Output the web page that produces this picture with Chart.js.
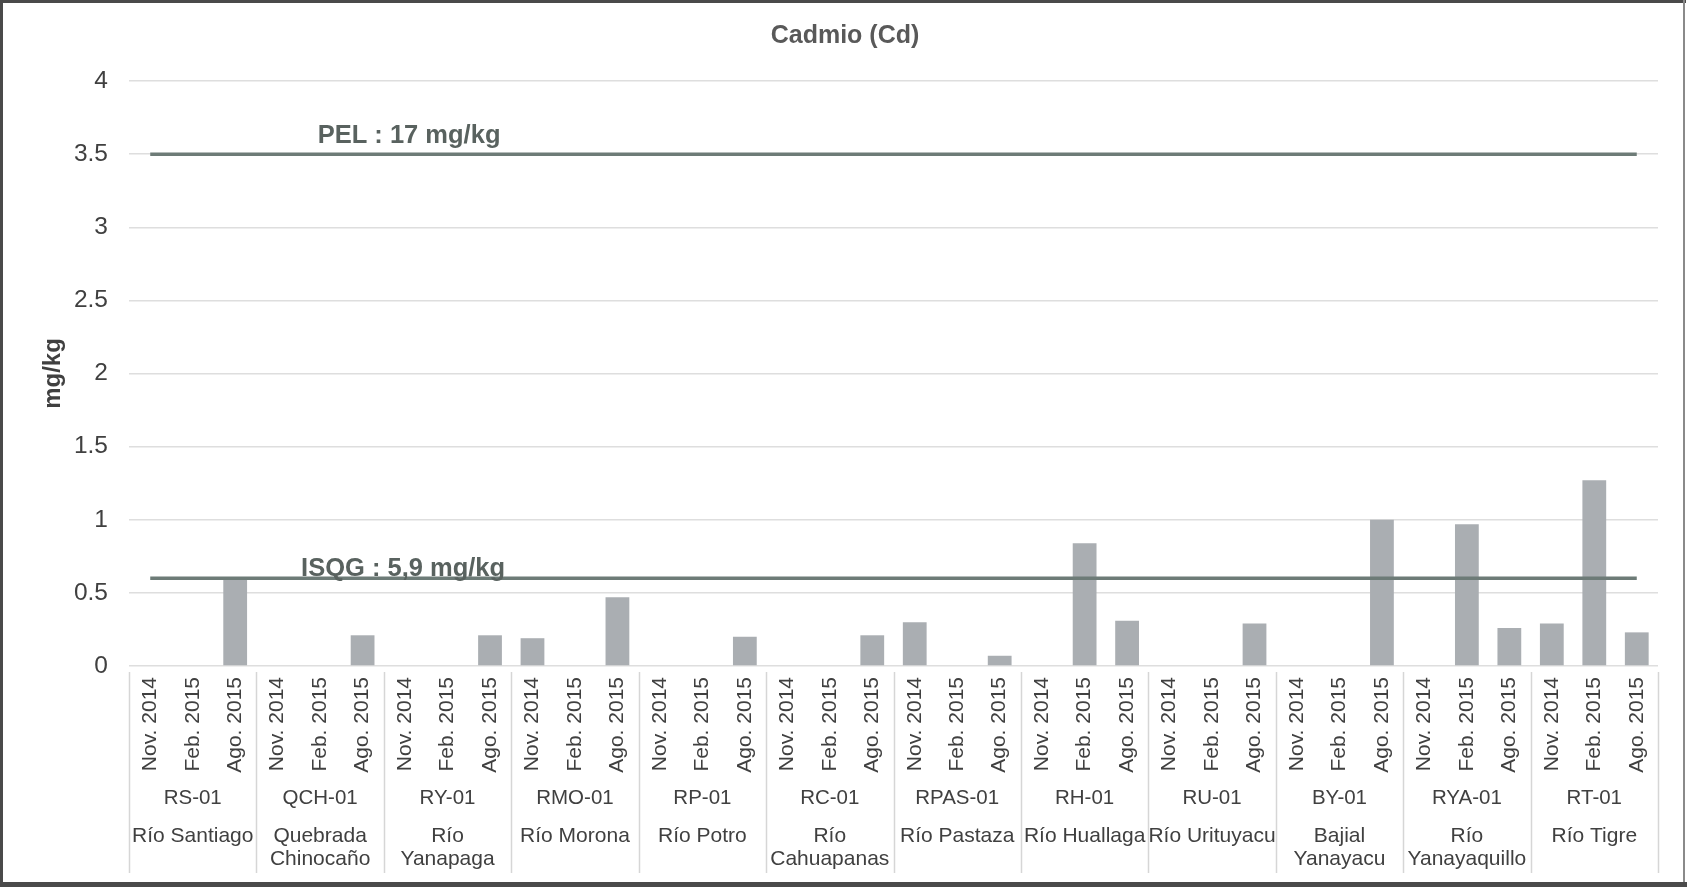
<!DOCTYPE html>
<html lang="es">
<head>
<meta charset="utf-8">
<title>Cadmio (Cd)</title>
<script src="https://cdn.jsdelivr.net/npm/chart.js@4"></script>
<style>
  html, body { margin: 0; padding: 0; background: #ffffff; }
  #wrap { width: 1687px; height: 887px; }
</style>
</head>
<body>
<div id="wrap"><canvas id="chart" width="1687" height="887"></canvas></div>
<script>
// Sampling campaigns at each station
const periods = ['Nov. 2014', 'Feb. 2015', 'Ago. 2015'];

// Station codes and river names (one entry per station)
const stations = ['RS-01', 'QCH-01', 'RY-01', 'RMO-01', 'RP-01', 'RC-01',
                  'RPAS-01', 'RH-01', 'RU-01', 'BY-01', 'RYA-01', 'RT-01'];
const rivers = [
  ['Río Santiago'], ['Quebrada', 'Chinocaño'], ['Río', 'Yanapaga'], ['Río Morona'],
  ['Río Potro'], ['Río', 'Cahuapanas'], ['Río Pastaza'], ['Río Huallaga'],
  ['Río Urituyacu'], ['Bajial', 'Yanayacu'], ['Río', 'Yanayaquillo'], ['Río Tigre']
];

// Cadmium in sediment, mg/kg, per station: [Nov. 2014, Feb. 2015, Ago. 2015]
const rs01   = [null, null, 0.59];
const qch01  = [null, null, 0.21];
const ry01   = [null, null, 0.21];
const rmo01  = [0.19, null, 0.47];
const rp01   = [null, null, 0.20];
const rc01   = [null, null, 0.21];
const rpas01 = [0.30, null, 0.07];
const rh01   = [null, 0.84, 0.31];
const ru01   = [null, null, 0.29];
const by01   = [null, null, 1.00];
const rya01  = [null, 0.97, 0.26];
const rt01   = [0.29, 1.27, 0.23];

// Guideline levels drawn across the chart
const pelLevel = 3.5;
const isqgLevel = 0.6;
const pelText = 'PEL : 17 mg/kg';
const isqgText = 'ISQG : 5,9 mg/kg';

// Y axis range
const yMin = 0, yMax = 4, yStep = 0.5;

const stationValues = [rs01, qch01, ry01, rmo01, rp01, rc01, rpas01, rh01, ru01, by01, rya01, rt01];
const labels = stations.flatMap(() => periods);
const barData = stationValues.flat();

const FONT = "'Liberation Sans', Arial, sans-serif";
const TEXT = '#404040';
const LINE = '#6d7b77';

// Frame, title, guideline captions and the two-level station labels
const decor = {
  id: 'decor',
  beforeDraw(chart) {
    const ctx = chart.ctx;
    ctx.save();
    ctx.fillStyle = '#ffffff';
    ctx.fillRect(0, 0, chart.width, chart.height);
    ctx.restore();
  },
  afterDraw(chart) {
    const ctx = chart.ctx;
    const x = chart.scales.x, y = chart.scales.y;
    const area = chart.chartArea;
    ctx.save();

    // title
    ctx.fillStyle = '#595959';
    ctx.font = 'bold 25px ' + FONT;
    ctx.textAlign = 'center';
    ctx.textBaseline = 'middle';
    ctx.fillText('Cadmio (Cd)', 845, 36);

    // guideline captions
    ctx.fillStyle = '#59625f';
    ctx.font = 'bold 25.5px ' + FONT;
    ctx.textBaseline = 'alphabetic';
    const capX = x.getPixelForValue(6) + 4;
    ctx.fillText(pelText, capX, y.getPixelForValue(pelLevel) - 11);
    ctx.fillText(isqgText, capX - 6, y.getPixelForValue(isqgLevel) - 2);

    // group separators below the axis
    const cat = (x.right - x.left) / labels.length;
    ctx.strokeStyle = '#d6d6d6';
    ctx.lineWidth = 1.5;
    for (let g = 0; g <= stations.length; g++) {
      const px = Math.round(x.left + g * periods.length * cat) + 0.5;
      ctx.beginPath();
      ctx.moveTo(px, area.bottom + 6);
      ctx.lineTo(px, area.bottom + 207);
      ctx.stroke();
    }

    // station codes and river names
    ctx.fillStyle = TEXT;
    ctx.textAlign = 'center';
    ctx.textBaseline = 'middle';
    stations.forEach((s, g) => {
      const cx = x.getPixelForValue(g * periods.length + 1);
      ctx.font = '20.5px ' + FONT;
      ctx.fillText(s, cx, area.bottom + 132);
      ctx.font = '21px ' + FONT;
      rivers[g].forEach((line, k) => ctx.fillText(line, cx, area.bottom + 170 + k * 23));
    });

    // outer frame
    ctx.strokeStyle = '#4a4a4a';
    ctx.lineWidth = 3;
    ctx.beginPath();
    ctx.moveTo(1.5, 885); ctx.lineTo(1.5, 1.5); ctx.lineTo(1686, 1.5);
    ctx.stroke();
    ctx.lineWidth = 5;
    ctx.beginPath();
    ctx.moveTo(0, 884.5); ctx.lineTo(1687, 884.5);
    ctx.stroke();
    ctx.strokeStyle = '#8a8a8a';
    ctx.lineWidth = 2;
    ctx.beginPath();
    ctx.moveTo(1684, 0); ctx.lineTo(1684, 882);
    ctx.stroke();
    ctx.restore();
  }
};

new Chart(document.getElementById('chart'), {
  type: 'bar',
  data: {
    labels: labels,
    datasets: [
      {
        type: 'line', label: 'PEL', data: labels.map(() => pelLevel),
        borderColor: LINE, borderWidth: 3.5, pointRadius: 0, fill: false, order: 0
      },
      {
        type: 'line', label: 'ISQG', data: labels.map(() => isqgLevel),
        borderColor: LINE, borderWidth: 3.5, pointRadius: 0, fill: false, order: 0
      },
      {
        type: 'bar', label: 'Cd', data: barData,
        backgroundColor: '#aaaeb2', borderWidth: 0,
        barPercentage: 0.56, categoryPercentage: 1.0, order: 1
      }
    ]
  },
  options: {
    responsive: false,
    animation: false,
    devicePixelRatio: 1,
    layout: { padding: { top: 81, right: 29, bottom: 0, left: 0 } },
    plugins: {
      legend: { display: false },
      title: { display: false },
      tooltip: { enabled: false }
    },
    scales: {
      x: {
        grid: { display: false, drawTicks: false },
        border: { display: false },
        ticks: {
          autoSkip: false, minRotation: 90, maxRotation: 90, padding: 11,
          color: TEXT, font: { family: FONT, size: 21 }
        },
        afterFit(scale) { scale.height = 221; }
      },
      y: {
        min: yMin, max: yMax,
        grid: { color: '#dedede', lineWidth: 1.5, drawTicks: false },
        border: { display: false },
        ticks: {
          stepSize: yStep, padding: 21,
          color: TEXT, font: { family: FONT, size: 24.5 },
          callback: (v) => String(v)
        },
        title: {
          display: true, text: 'mg/kg', color: TEXT,
          font: { family: FONT, size: 24, weight: 'bold' },
          padding: { top: 39, bottom: 0 }
        },
        afterFit(scale) { scale.width = 129; }
      }
    }
  },
  plugins: [decor]
});
</script>
</body>
</html>
